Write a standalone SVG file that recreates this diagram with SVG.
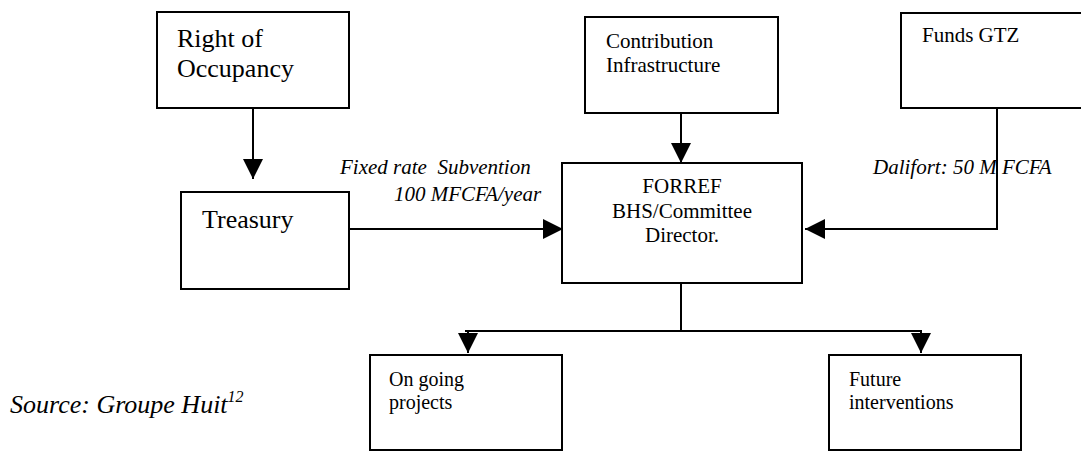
<svg xmlns="http://www.w3.org/2000/svg" width="1081" height="451" viewBox="0 0 1081 451">
<style>
  .box { fill: #fff; stroke: #000; stroke-width: 2; }
  .t { font-family: "Liberation Serif", "DejaVu Serif", serif; fill: #000; }
  .big { font-size: 26px; }
  .mid { font-size: 21px; }
  .sm { font-size: 20px; }
  .it { font-style: italic; }
  .con { fill: none; stroke: #000; stroke-width: 2; }
</style>
<defs>
  <marker id="arr" markerUnits="userSpaceOnUse" markerWidth="20" markerHeight="20" refX="20" refY="10" orient="auto" viewBox="0 0 20 20">
    <path d="M0,0 L20,10 L0,20 Z" fill="#000"/>
  </marker>
</defs>
<rect width="1081" height="451" fill="#fff"/>

<g id="connectors">
  <line class="con" x1="253" y1="108" x2="253" y2="179" marker-end="url(#arr)"/>
  <line class="con" x1="681" y1="113" x2="681" y2="163" marker-end="url(#arr)"/>
  <line class="con" x1="349" y1="229" x2="563" y2="229" marker-end="url(#arr)"/>
  <polyline class="con" points="997,108 997,229 805,229" marker-end="url(#arr)"/>
  <line class="con" x1="681" y1="283" x2="681" y2="331"/>
  <line class="con" x1="465" y1="331" x2="922" y2="331"/>
  <line class="con" x1="468" y1="331" x2="468" y2="353" marker-end="url(#arr)"/>
  <line class="con" x1="921" y1="331" x2="921" y2="353" marker-end="url(#arr)"/>
</g>

<g id="right-of-occupancy">
  <rect class="box" x="157" y="12" width="192" height="96"/>
  <text class="t big" x="177" y="47">Right of</text>
  <text class="t big" x="177" y="77">Occupancy</text>
</g>

<g id="contribution">
  <rect class="box" x="585" y="17" width="193" height="96"/>
  <text class="t mid" x="606" y="48">Contribution</text>
  <text class="t mid" x="606" y="72">Infrastructure</text>
</g>

<g id="funds-gtz">
  <rect class="box" x="901" y="13" width="190" height="95"/>
  <text class="t mid" x="922" y="42">Funds GTZ</text>
</g>

<g id="treasury">
  <rect class="box" x="181" y="192" width="168" height="97"/>
  <text class="t big" x="202" y="228">Treasury</text>
</g>

<g id="forref">
  <rect class="box" x="562" y="163" width="240" height="120"/>
  <text class="t mid" x="682" y="193" text-anchor="middle">FORREF</text>
  <text class="t mid" x="682" y="218" text-anchor="middle">BHS/Committee</text>
  <text class="t mid" x="682" y="242" text-anchor="middle">Director.</text>
</g>

<g id="on-going-projects">
  <rect class="box" x="370" y="355" width="192" height="95"/>
  <text class="t sm" x="389" y="386">On going</text>
  <text class="t sm" x="389" y="409">projects</text>
</g>

<g id="future-interventions">
  <rect class="box" x="829" y="355" width="192" height="95"/>
  <text class="t sm" x="849" y="386">Future</text>
  <text class="t sm" x="849" y="409">interventions</text>
</g>

<g id="labels">
  <text class="t mid it" x="340" y="174" xml:space="preserve">Fixed rate  Subvention</text>
  <text class="t mid it" x="394" y="201">100 MFCFA/year</text>
  <text class="t mid it" x="873" y="174">Dalifort: 50 M FCFA</text>
  <text class="t big it" x="10" y="413">Source: Groupe Huit<tspan font-size="16" dy="-11">12</tspan></text>
</g>
</svg>
